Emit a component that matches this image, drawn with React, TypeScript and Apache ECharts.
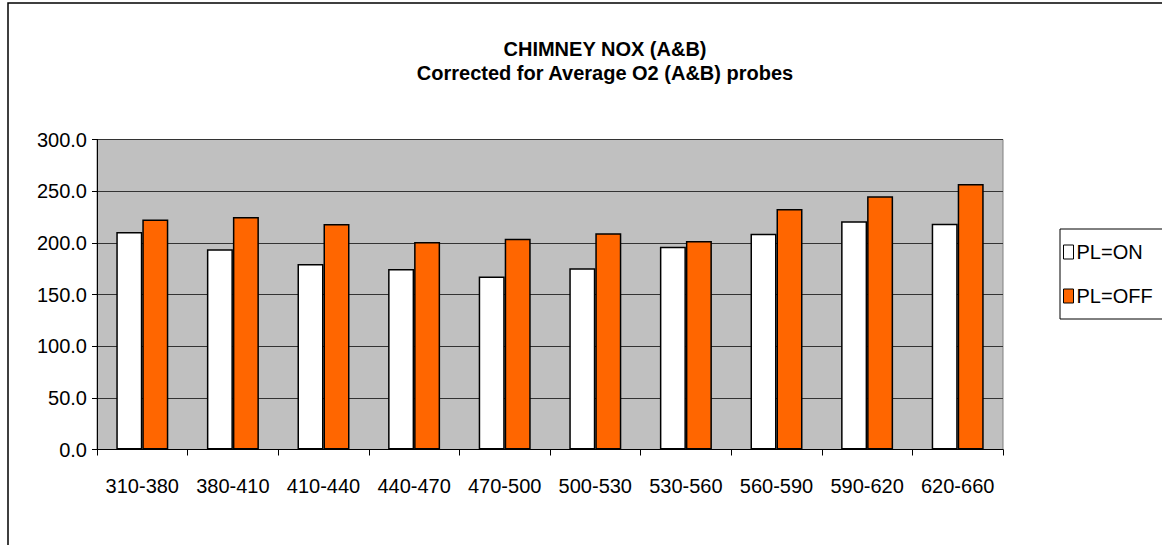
import React, { useEffect, useRef } from "react";
import * as echarts from "echarts";

const categories = ["310-380", "380-410", "410-440", "440-470", "470-500", "500-530", "530-560", "560-590", "590-620", "620-660"];
const plOn = [210.4, 193.7, 179.5, 174.7, 167.5, 175.3, 196.3, 208.9, 220.8, 218.5];
const plOff = [222.7, 224.9, 218.2, 200.8, 204.0, 209.2, 201.8, 232.7, 245.0, 256.9];
const titleLine1 = "CHIMNEY NOX (A&B)";
const titleLine2 = "Corrected for Average O2 (A&B) probes";

const FONT = "'Liberation Sans', Arial, sans-serif";

export default function App() {
  const ref = useRef<HTMLDivElement>(null);
  useEffect(() => {
    if (!ref.current) return;
    const chart = echarts.init(ref.current, undefined, { renderer: "svg" });
    chart.setOption({
      animation: false,
      backgroundColor: "#ffffff",
      textStyle: { fontFamily: FONT },
      title: [
        {
          text: titleLine1,
          left: 600,
          top: 34,
          textAlign: "center",
          textStyle: { fontFamily: FONT, fontSize: 20, fontWeight: "bold", color: "#000" },
        },
        {
          text: titleLine2,
          left: 600,
          top: 58,
          textAlign: "center",
          textStyle: { fontFamily: FONT, fontSize: 20, fontWeight: "bold", color: "#000" },
        },
      ],
      graphic: [
        {
          type: "rect",
          shape: { x: 8, y: 3, width: 1200, height: 600 },
          style: { fill: "none", stroke: "#000", lineWidth: 1.5 },
          silent: true,
          z: -1,
        },
      ],
      legend: {
        orient: "vertical",
        left: 1060,
        top: 229,
        padding: [13, 10, 13, 3],
        itemGap: 24,
        itemWidth: 10,
        itemHeight: 14,
        icon: "rect",
        borderColor: "#000",
        borderWidth: 1,
        backgroundColor: "#fff",
        textStyle: { fontFamily: FONT, fontSize: 20, color: "#000", padding: [0, 0, 0, -2] },
        data: [
          { name: "PL=ON", itemStyle: { color: "#ffffff", borderColor: "#000", borderWidth: 1 } },
          { name: "PL=OFF", itemStyle: { color: "#ff6600", borderColor: "#000", borderWidth: 1 } },
        ],
      },
      grid: {
        left: 97,
        right: 159,
        top: 139.5,
        bottom: 95.5,
        show: true,
        backgroundColor: "#c0c0c0",
        borderColor: "#808080",
        borderWidth: 1,
      },
      xAxis: {
        type: "category",
        data: categories,
        boundaryGap: true,
        axisLine: { lineStyle: { color: "#000", width: 1 } },
        axisTick: { show: true, length: 6, inside: false, lineStyle: { color: "#000" } },
        axisLabel: { margin: 26, fontSize: 20, color: "#000", fontFamily: FONT, interval: 0 },
      },
      yAxis: {
        type: "value",
        min: 0,
        max: 300,
        interval: 50,
        axisLine: { show: true, lineStyle: { color: "#000", width: 1 } },
        axisTick: { show: true, length: 5, lineStyle: { color: "#000" } },
        axisLabel: {
          margin: 10,
          fontSize: 20,
          color: "#000",
          fontFamily: FONT,
          formatter: (v: number) => v.toFixed(1),
        },
        splitLine: { show: true, lineStyle: { color: "#333", width: 1 } },
      },
      series: [
        {
          name: "PL=ON",
          type: "bar",
          data: plOn,
          barWidth: 26,
          barGap: "0%",
          itemStyle: { color: "#ffffff", borderColor: "#000", borderWidth: 1.5 },
        },
        {
          name: "PL=OFF",
          type: "bar",
          data: plOff,
          barWidth: 26,
          barGap: "0%",
          itemStyle: { color: "#ff6600", borderColor: "#000", borderWidth: 1.5 },
        },
      ],
    });
    return () => chart.dispose();
  }, []);
  return (
    <div
      ref={ref}
      style={{ position: "fixed", left: 0, top: 0, width: 1162, height: 545 }}
    />
  );
}
